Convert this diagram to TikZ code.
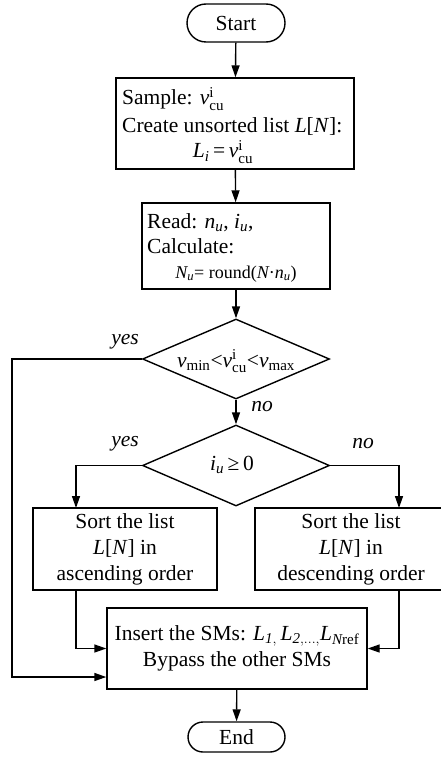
\documentclass[tikz,border=0pt]{standalone}
\usepackage{fontspec}
\setmainfont{Liberation Serif}
\usetikzlibrary{arrows.meta,shapes.geometric}
\newcommand{\vcu}{\mathit{v}^{\mathrm{i}}_{\mathrm{cu}}}
\begin{document}
\begin{tikzpicture}[x=1pt,y=-1pt,
  every node/.style={font=\fontsize{21.5}{26}\selectfont},
  lw/.style={line width=1.4pt},
  term/.style={lw,draw,rectangle,inner sep=0pt},
  procbox/.style={lw,draw,rectangle,inner sep=0pt},
  decision/.style={lw,draw,diamond,inner sep=0pt},
  arr/.style={lw,-{Triangle[length=12pt,width=8pt]}},
  lbl/.style={font=\fontsize{21.5}{26}\selectfont\itshape},
  txt/.style={inner sep=0pt}
]
\useasboundingbox (0,0) rectangle (441,762);

\node[term,rounded corners=19pt,minimum width=98pt,minimum height=38pt] (start) at (236,23) {Start};

\node[procbox,minimum width=238pt,minimum height=91pt] (b1) at (235,123.5) {};
\node[txt,anchor=base west] (b1a) at (122,105) {Sample: $\vcu$};
\node[txt,anchor=base west] (b1b) at (122,133) {Create unsorted list \textit{L}[\textit{N}]:};
\node[txt,anchor=base] (b1c) at (223,158) {$\mathit{L_i}$\,=\,$\vcu$};

\node[procbox,minimum width=188pt,minimum height=86pt] (b2) at (236,246) {};
\node[txt,anchor=base west] (b2a) at (147,228) {Read: $\mathit{n_u}$, $\mathit{i_u}$,};
\node[txt,anchor=base west] (b2b) at (147,253) {Calculate:};
\node[txt,anchor=base,font=\fontsize{18}{22}\selectfont] (b2c) at (236,278) {$\mathit{N_u}$= round($\mathit{N}$·$\mathit{n_u}$)};

\node[decision,minimum width=187pt,minimum height=80pt] (d1) at (236,359) {};
\node[txt] (d1t) at (236,361) {$\mathit{v}_{\mathrm{min}}$<$\vcu$<$\mathit{v}_{\mathrm{max}}$};

\node[decision,minimum width=187pt,minimum height=81pt] (d2) at (236,465.5) {};
\node[txt] (d2t) at (232,465) {$\mathit{i_u}$\,≥\,0};

\node[procbox,minimum width=184pt,minimum height=82pt,align=center] (lb) at (125,549) {Sort the list\\\textit{L}[\textit{N}] in\\ascending order};
\node[procbox,minimum width=192pt,minimum height=82pt,align=center] (rb) at (351,549) {Sort the list\\\textit{L}[\textit{N}] in\\descending order};

\node[procbox,minimum width=260pt,minimum height=81pt,align=center] (fin) at (237,648.5) {Insert the SMs: $\mathit{L_{1,}\,L_{2,\dots,}L_{N\mathrm{ref}}}$\\Bypass the other SMs};

\node[term,rounded corners=15pt,minimum width=97pt,minimum height=30pt] (end) at (236.5,737) {End};

\node[lbl] (y1) at (125,342) {yes};
\node[lbl] (n1) at (262,407) {no};
\node[lbl] (y2) at (125,444) {yes};
\node[lbl] (n2) at (363,444) {no};

\coordinate (ol) at (12,677);
\coordinate (la) at (76,508);
\coordinate (ra) at (399,508);

\draw[arr] (start) -- (b1);
\draw[arr] (b1) -- (b2);
\draw[arr] (b2) -- (d1);
\draw[arr] (d1) -- (d2);
\draw[arr] (d1.west) -| (ol) -- (ol -| fin.west);
\draw[arr] (d2.west) -| (la);
\draw[arr] (d2.east) -| (ra);
\draw[arr] (la |- lb.south) |- (fin.west);
\draw[arr] (ra |- rb.south) |- (fin.east);
\draw[arr] (fin) -- (end);
\end{tikzpicture}
\end{document}
